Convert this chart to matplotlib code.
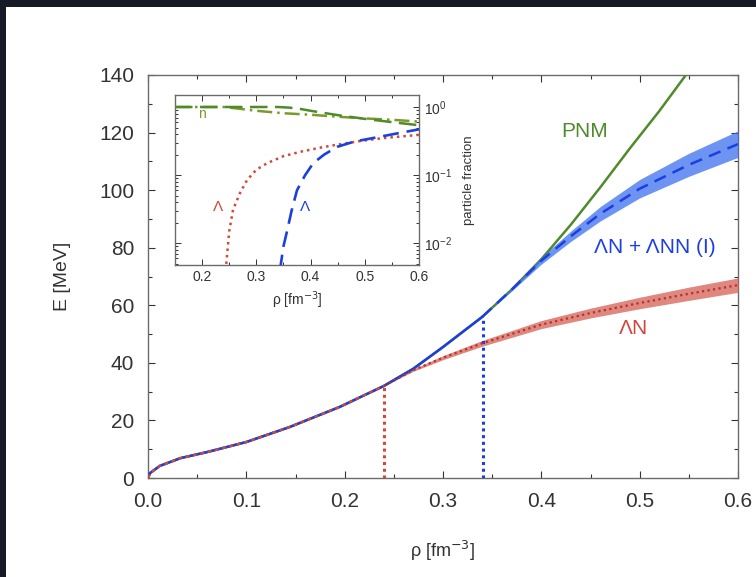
import matplotlib
matplotlib.use("Agg")
import matplotlib.pyplot as plt
from matplotlib.patches import Rectangle
from matplotlib.ticker import MultipleLocator, LogLocator, NullFormatter
import numpy as np

plt.rcParams['font.family'] = ['Liberation Sans', 'DejaVu Sans']

# ---------------- data ----------------
# PNM energy per particle
rho_pnm = [0.0, 0.002, 0.012, 0.033, 0.06, 0.10, 0.144, 0.195, 0.24, 0.27, 0.30, 0.34,
           0.37, 0.40, 0.43, 0.46, 0.49, 0.52, 0.547, 0.56]
E_pnm = [0.0, 1.7, 4.2, 6.9, 9.0, 12.5, 17.7, 24.7, 32.0, 38.0, 45.5, 56.0,
         65.5, 76.0, 88.0, 101.0, 114.5, 127.5, 140.0, 146.0]

# Lambda N (+ Lambda NN) hypernuclear matter, from onset density
rho_lnn = [0.34, 0.37, 0.40, 0.43, 0.46, 0.50, 0.55, 0.60]
E_lnn = [56.0, 65.5, 75.5, 84.0, 91.8, 100.5, 108.8, 116.0]
dE_lnn = [0.0, 0.5, 1.2, 1.8, 2.5, 3.2, 4.0, 4.6]

# Lambda N only
rho_ln = [0.24, 0.27, 0.30, 0.34, 0.40, 0.45, 0.50, 0.55, 0.60]
E_ln = [32.0, 37.5, 41.8, 46.8, 53.3, 57.3, 60.8, 64.0, 67.0]
dE_ln = [0.0, 0.4, 0.7, 1.0, 1.4, 1.7, 2.0, 2.3, 2.5]

# onset densities and energies
rho_on_ln, E_on_ln = 0.24, 32.0
rho_on_lnn, E_on_lnn = 0.341, 56.0

# inset: particle fractions
rho_lam_ln = [0.2435, 0.25, 0.257, 0.27, 0.283, 0.30, 0.32, 0.35, 0.381, 0.42, 0.449, 0.49, 0.534, 0.60]
x_lam_ln = [0.004, 0.015, 0.031, 0.055, 0.085, 0.12, 0.15, 0.19, 0.22, 0.255, 0.28, 0.315, 0.35, 0.39]
rho_lam_lnn = [0.3435, 0.35, 0.357, 0.365, 0.375, 0.39, 0.405, 0.425, 0.449, 0.48, 0.523, 0.56, 0.60]
x_lam_lnn = [0.004, 0.009, 0.0155, 0.03, 0.06, 0.10, 0.15, 0.20, 0.26, 0.31, 0.36, 0.41, 0.47]
rho_n_ln = [0.15, 0.24, 0.27, 0.30, 0.35, 0.40, 0.45, 0.50, 0.55, 0.60]
x_n_ln = [1.0, 1.0, 0.94, 0.88, 0.81, 0.77, 0.72, 0.68, 0.65, 0.61]
rho_n_lnn = [0.15, 0.34, 0.36, 0.38, 0.40, 0.45, 0.50, 0.55, 0.60]
x_n_lnn = [1.0, 1.0, 0.98, 0.94, 0.88, 0.76, 0.67, 0.60, 0.54]

xticks = [0.0, 0.1, 0.2, 0.3, 0.4, 0.5, 0.6]
yticks = [0, 20, 40, 60, 80, 100, 120, 140]
in_xticks = [0.2, 0.3, 0.4, 0.5, 0.6]

GREEN = '#4f8a2b'
OLIVE = '#7a9a2a'
BLUE = '#1c3fe0'
RED = '#d2473c'
SPINE = '#6b6b6b'

# ---------------- figure ----------------
fig = plt.figure(figsize=(7.56, 5.77), dpi=100)
fig.patch.set_facecolor('#161a24')
bg = Rectangle((6/756, 0), 1, 1 - 7/577, transform=fig.transFigure,
               facecolor='white', edgecolor='none', zorder=-10)
fig.add_artist(bg)

ax = fig.add_axes([148/756, 1 - 478/577, 590/756, 403/577])
ax.set_facecolor('white')

rp = np.array(rho_pnm); Ep = np.array(E_pnm)
ax.plot(rp, Ep, color=GREEN, lw=1.8, zorder=3)

# bands
rl = np.array(rho_lnn); El = np.array(E_lnn); dl = np.array(dE_lnn)
ax.fill_between(rl, El - dl, El + dl, color='#3c6ff0', alpha=0.75, lw=0, zorder=4)
rn = np.array(rho_ln); En = np.array(E_ln); dn = np.array(dE_ln)
ax.fill_between(rn, En - dn, En + dn, color='#d86a60', alpha=0.8, lw=0, zorder=4)

# common low-density parts
m_b = rp <= rho_on_lnn + 1e-9
ax.plot(rp[m_b], Ep[m_b], color=BLUE, lw=1.8, zorder=5)
m_r = rp <= rho_on_ln + 1e-9
ax.plot(rp[m_r], Ep[m_r], color=RED, lw=1.8, ls=(0, (1.5, 1.5)), zorder=6)

ax.plot(rl, El, color=BLUE, lw=1.8, ls=(0, (5, 3)), zorder=6)
ax.plot(rn, En, color='#b8302a', lw=1.6, ls=(0, (1, 1.5)), zorder=6)

ax.vlines(rho_on_ln, 0, E_on_ln, color=RED, lw=2.2, ls=(0, (1, 1.2)), zorder=5)
ax.vlines(rho_on_lnn, 0, E_on_lnn, color=BLUE, lw=2.2, ls=(0, (1, 1.2)), zorder=5)

ax.set_xlim(0, 0.6)
ax.set_ylim(0, 140)
ax.set_xticks(xticks)
ax.set_xticklabels([f'{v:.1f}' for v in xticks])
ax.set_yticks(yticks)
ax.xaxis.set_minor_locator(MultipleLocator(0.05))
ax.yaxis.set_minor_locator(MultipleLocator(10))
ax.tick_params(which='both', direction='in', top=True, right=True, colors='#333333',
               labelcolor='#333333', labelsize=15, width=0.8)
ax.tick_params(which='major', length=5)
ax.tick_params(which='minor', length=3)
ax.tick_params(axis='x', pad=10)
ax.tick_params(axis='y', pad=10)
for s in ax.spines.values():
    s.set_color(SPINE)
    s.set_linewidth(1.0)
ax.set_xlabel('ρ [fm$^{-3}$]', fontsize=13, color='#333333', labelpad=20)
ax.set_ylabel('E [MeV]', fontsize=14, color='#333333', labelpad=20)

ax.text(0.444, 120.5, 'PNM', color=GREEN, fontsize=15, ha='center', va='center')
ax.text(0.515, 80.0, 'ΛN + ΛNN (I)', color=BLUE, fontsize=15, ha='center', va='center')
ax.text(0.494, 52.0, 'ΛN', color=RED, fontsize=15, ha='center', va='center')

# ---------------- inset ----------------
axi = fig.add_axes([175/756, 1 - 265/577, 244/756, 170/577])
axi.set_yscale('log')
axi.plot(rho_n_ln, x_n_ln, color=OLIVE, lw=1.8, ls=(0, (6, 2, 1, 2)), zorder=3)
axi.plot(rho_n_lnn, x_n_lnn, color=GREEN, lw=1.8, ls=(0, (7, 3)), zorder=3)
axi.plot(rho_lam_ln, x_lam_ln, color=RED, lw=1.8, ls=(0, (1, 1.6)), zorder=4)
axi.plot(rho_lam_lnn, x_lam_lnn, color=BLUE, lw=1.9, ls=(0, (6, 3)), zorder=4)
axi.set_xlim(0.15, 0.6)
axi.set_ylim(0.0048, 1.5)
axi.set_xticks(in_xticks)
axi.set_xticklabels([f'{v:.1f}' for v in in_xticks])
axi.xaxis.set_minor_locator(MultipleLocator(0.05))
axi.yaxis.set_major_locator(LogLocator(base=10, numticks=10))
axi.yaxis.set_minor_locator(LogLocator(base=10, subs=np.arange(2, 10), numticks=20))
axi.yaxis.set_minor_formatter(NullFormatter())
axi.tick_params(which='both', direction='in', top=True, right=True, left=True,
                labelleft=False, labelright=True, labelsize=10, colors='#333333',
                labelcolor='#333333', width=0.7)
axi.tick_params(which='major', length=4)
axi.tick_params(which='minor', length=2)
for s in axi.spines.values():
    s.set_color(SPINE)
    s.set_linewidth(1.0)
axi.yaxis.set_label_position('right')
axi.set_ylabel('particle fraction', fontsize=9.5, color='#333333', labelpad=8)
axi.set_xlabel('ρ [fm$^{-3}$]', fontsize=10, color='#333333', labelpad=4)
axi.text(0.20, 0.78, 'n', color=OLIVE, fontsize=10, ha='center', va='center')
axi.text(0.23, 0.034, 'Λ', color=RED, fontsize=11, ha='center', va='center')
axi.text(0.39, 0.034, 'Λ', color=BLUE, fontsize=11, ha='center', va='center')

fig.savefig('out.png', dpi=100, facecolor=fig.get_facecolor())
